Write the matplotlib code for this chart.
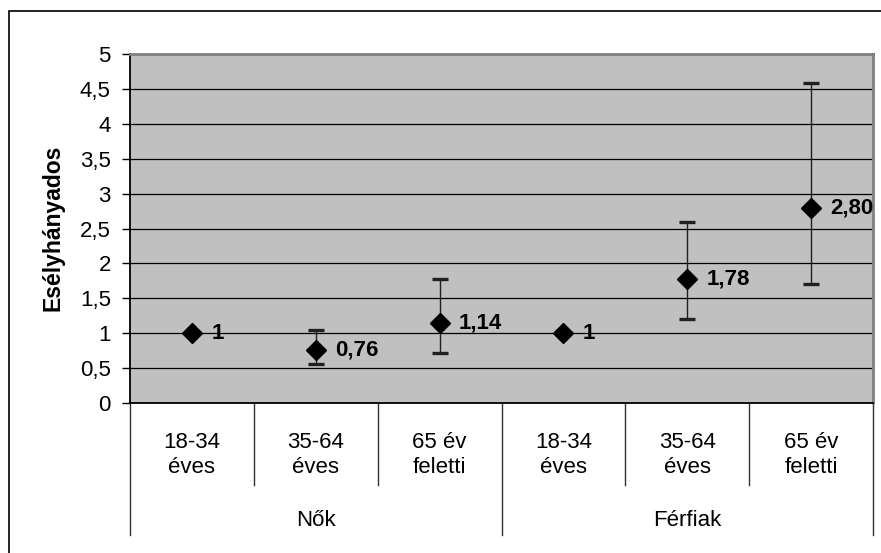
import matplotlib
matplotlib.use("Agg")
import matplotlib.pyplot as plt
from matplotlib.patches import Rectangle
import numpy as np

plt.rcParams['font.family'] = ['Liberation Sans', 'DejaVu Sans']

sub_labels = ["18-34\néves", "35-64\néves", "65 év\nfeletti", "18-34\néves", "35-64\néves", "65 év\nfeletti"]
groups = ["Nők", "Férfiak"]
values = [1.00, 0.76, 1.14, 1.00, 1.78, 2.80]
lower = [1.00, 0.56, 0.72, 1.00, 1.21, 1.71]
upper = [1.00, 1.04, 1.78, 1.00, 2.60, 4.59]
value_labels = ["1", "0,76", "1,14", "1", "1,78", "2,80"]
yticks = [0, 0.5, 1, 1.5, 2, 2.5, 3, 3.5, 4, 4.5, 5]
ytick_labels = ["0", "0,5", "1", "1,5", "2", "2,5", "3", "3,5", "4", "4,5", "5"]

W, H = 881, 553
fig = plt.figure(figsize=(W/100, H/100), dpi=100)
fig.patch.set_facecolor("white")
fig.patches.append(Rectangle((8.5/W, -0.1), 1.2, 1.1 - 11.5/H, transform=fig.transFigure,
                             fill=False, edgecolor="black", linewidth=1.2))

ax_l, ax_r, ax_t, ax_b = 130, 873, 54, 403
ax_h = float(ax_b - ax_t)
ax = fig.add_axes([ax_l/W, 1-ax_b/H, (ax_r-ax_l)/W, ax_h/H])
ax.set_facecolor("#C0C0C0")
x = np.arange(len(values))
ax.set_xlim(-0.5, len(values)-0.5)
ax.set_ylim(0, 5)
ax.set_yticks(yticks)
ax.set_yticklabels(ytick_labels, fontsize=16)
ax.yaxis.grid(True, color="black", linewidth=0.9)
ax.set_axisbelow(True)
ax.tick_params(axis="y", direction="out", length=5.8, width=1, pad=8)
ax.set_xticks([])
for s in ["top", "right"]:
    ax.spines[s].set_color("#808080")
    ax.spines[s].set_linewidth(2)
for s in ["left", "bottom"]:
    ax.spines[s].set_color("black")
    ax.spines[s].set_linewidth(1.3)

v = np.array(values)
yerr = np.array([v - np.array(lower), np.array(upper) - v])
ax.errorbar(x, v, yerr=yerr, fmt="none", ecolor="#202020", elinewidth=1,
            capsize=6, capthick=2.4, zorder=3)
ax.plot(x, v, linestyle="none", marker="D", markersize=10.5, color="black", zorder=4)
for xi, vi, lab in zip(x, v, value_labels):
    ax.annotate(lab, (xi, vi), xytext=(14, 0), textcoords="offset points",
                ha="left", va="center", fontsize=16, fontweight="bold", zorder=6)

fig.text(53/W, 1-227.5/H, "Esélyhányados", rotation=90, ha="center", va="center",
         fontsize=16.5, fontweight="bold")

# category axis lines and labels
trans = ax.get_xaxis_transform()
def yax(py):
    return (ax_b - py) / ax_h
for k in range(len(values)+1):
    bx = k - 0.5
    bottom = 535 if k % 3 == 0 else 485
    ax.plot([bx, bx], [0, yax(bottom)], transform=trans, color="#303030",
            linewidth=1, clip_on=False)
for xi, lab in zip(x, sub_labels):
    ax.text(xi, yax(455), lab, transform=trans, ha="center", va="center",
            fontsize=16, linespacing=1.2)
for gi, g in enumerate(groups):
    ax.text(gi*3 + 1, yax(520), g, transform=trans, ha="center", va="center", fontsize=16)

fig.savefig("out.png", dpi=100, facecolor="white")
